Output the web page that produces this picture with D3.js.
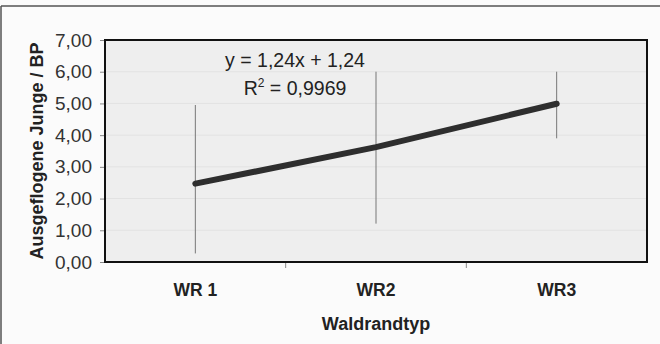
<!DOCTYPE html>
<html>
<head>
<meta charset="utf-8">
<script src="https://cdn.jsdelivr.net/npm/d3@7"></script>
<style>
body { margin: 0; background: #fbfbfb; }
svg { display: block; font-family: Arial, "Liberation Sans", sans-serif; }
</style>
</head>
<body>
<script>
var w = 660;
var h = 344;

var categories = ["WR 1", "WR2", "WR3"];
var means = [2.47, 3.62, 4.99];
var upper = [4.95, 6.0, 6.0];
var lower = [0.27, 1.21, 3.9];
var yTicks = [0, 1, 2, 3, 4, 5, 6, 7];
var equation = "y = 1,24x + 1,24";
var rSquared = "0,9969";

var plot = {left: 105, right: 647, top: 40, bottom: 262};

var svg = d3.select("body").append("svg")
    .attr("width", w)
    .attr("height", h);

// outer frame (only top and left edges show)
svg.append("rect")
    .attr("x", 0).attr("y", 0)
    .attr("width", w).attr("height", h)
    .attr("fill", "#fbfbfb");
svg.append("line")
    .attr("x1", 1).attr("x2", w).attr("y1", 6).attr("y2", 6)
    .attr("stroke", "#555").attr("stroke-width", 1.5);
svg.append("line")
    .attr("x1", 1).attr("x2", 1).attr("y1", 6).attr("y2", h)
    .attr("stroke", "#555").attr("stroke-width", 1.5);

var xScale = d3.scaleBand()
    .domain(categories)
    .range([plot.left, plot.right]);
var yScale = d3.scaleLinear()
    .domain([0, 7])
    .range([plot.bottom, plot.top]);

svg.append("rect")
    .attr("x", plot.left).attr("y", plot.top)
    .attr("width", plot.right - plot.left)
    .attr("height", plot.bottom - plot.top)
    .attr("fill", "#eeeeee");

// faint gridlines
svg.selectAll("line.grid")
    .data(yTicks.slice(1, -1))
    .enter()
    .append("line")
    .attr("class", "grid")
    .attr("x1", plot.left).attr("x2", plot.right)
    .attr("y1", function(d) { return yScale(d); })
    .attr("y2", function(d) { return yScale(d); })
    .attr("stroke", "#e2e2e2")
    .attr("stroke-width", 1);

var yAxis = d3.axisLeft(yScale)
    .tickValues(yTicks)
    .tickSize(5)
    .tickPadding(8)
    .tickFormat(function(d) { return d3.format(".2f")(d).replace(".", ","); });

var gy = svg.append("g")
    .attr("transform", "translate(" + plot.left + ",0)")
    .call(yAxis);
gy.select(".domain").remove();
gy.selectAll("line").attr("stroke", "#888");
gy.selectAll("text")
    .attr("font-size", "19px")
    .attr("fill", "#333")
    .attr("font-family", "Arial, 'Liberation Sans', sans-serif");

var xAxis = d3.axisBottom(xScale)
    .tickSize(0)
    .tickPadding(22);

var gx = svg.append("g")
    .attr("transform", "translate(0," + plot.bottom + ")")
    .call(xAxis);
gx.select(".domain").remove();
gx.selectAll("text")
    .attr("font-size", "17.5px")
    .attr("font-weight", "bold")
    .attr("fill", "#222")
    .attr("font-family", "Arial, 'Liberation Sans', sans-serif");

// category separator ticks
svg.selectAll("line.xtick")
    .data(categories.slice(1))
    .enter()
    .append("line")
    .attr("class", "xtick")
    .attr("x1", function(d) { return xScale(d); })
    .attr("x2", function(d) { return xScale(d); })
    .attr("y1", plot.bottom)
    .attr("y2", plot.bottom + 6)
    .attr("stroke", "#888");

// error bars
svg.selectAll("line.err")
    .data(categories)
    .enter()
    .append("line")
    .attr("class", "err")
    .attr("x1", function(d) { return xScale(d) + xScale.bandwidth() / 2; })
    .attr("x2", function(d) { return xScale(d) + xScale.bandwidth() / 2; })
    .attr("y1", function(d, i) { return yScale(upper[i]); })
    .attr("y2", function(d, i) { return yScale(lower[i]); })
    .attr("stroke", "#777")
    .attr("stroke-width", 1);

var line = d3.line()
    .x(function(d, i) { return xScale(categories[i]) + xScale.bandwidth() / 2; })
    .y(function(d) { return yScale(d); });

svg.append("path")
    .datum(means)
    .attr("d", line)
    .attr("fill", "none")
    .attr("stroke", "#2e2e2e")
    .attr("stroke-width", 6)
    .attr("stroke-linecap", "round");

// plot border
svg.append("rect")
    .attr("x", plot.left).attr("y", plot.top)
    .attr("width", plot.right - plot.left)
    .attr("height", plot.bottom - plot.top)
    .attr("fill", "none")
    .attr("stroke", "#111")
    .attr("stroke-width", 2);

// trendline label
svg.append("text")
    .attr("x", 295).attr("y", 67)
    .attr("text-anchor", "middle")
    .attr("font-size", "19.5px")
    .attr("fill", "#222")
    .text(equation);

var r2 = svg.append("text")
    .attr("x", 295).attr("y", 95)
    .attr("text-anchor", "middle")
    .attr("font-size", "19.5px")
    .attr("fill", "#222");
r2.append("tspan").text("R");
r2.append("tspan").attr("dy", -8).attr("font-size", "12px").text("2");
r2.append("tspan").attr("dy", 8).text(" = " + rSquared);

// axis titles
svg.append("text")
    .attr("x", (plot.left + plot.right) / 2)
    .attr("y", 330)
    .attr("text-anchor", "middle")
    .attr("font-size", "18px")
    .attr("font-weight", "bold")
    .attr("fill", "#222")
    .text("Waldrandtyp");

svg.append("text")
    .attr("transform", "translate(43," + (plot.top + plot.bottom) / 2 + ") rotate(-90)")
    .attr("text-anchor", "middle")
    .attr("font-size", "18px")
    .attr("font-weight", "bold")
    .attr("fill", "#222")
    .text("Ausgeflogene Junge / BP");
</script>
</body>
</html>
